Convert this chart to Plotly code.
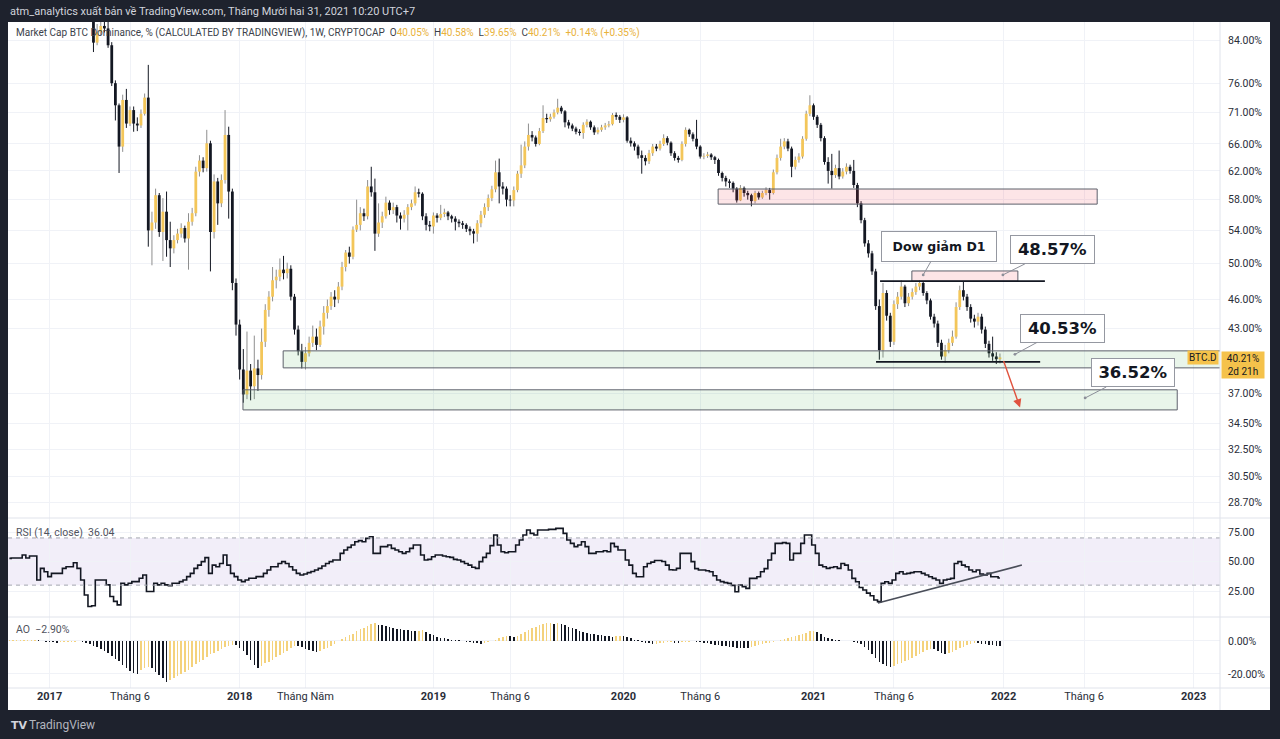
import math
import pandas as pd
import plotly.graph_objects as go
from plotly.subplots import make_subplots

# ---------------- data (weekly BTC dominance) ----------------
START_DATE = "2016-10-17"      # first weekly bar
FIRST_OPEN = 90.0

close = [
    90.4, 90.9, 90.6, 91.1, 90.8, 91.2, 91.0, 91.3, 89.6, 90.2,
    89.9, 89.7, 89.5, 89.9, 90.4, 90.5, 90.4, 90.9, 90.4, 89.8,
    89.0, 88.4, 88.0, 83.5, 85.5, 86.8, 86.3, 83.0, 76.0, 72.2,
    65.6, 73.1, 69.2, 71.4, 69.2, 68.9, 70.8, 73.5, 54.0, 55.0,
    58.6, 53.8, 56.4, 52.8, 51.8, 52.8, 53.6, 54.3, 53.0, 55.1,
    56.2, 61.9, 63.5, 62.4, 66.1, 53.8, 60.5, 57.5, 60.7, 67.4,
    59.1, 47.8, 43.4, 39.1, 36.9, 39.0, 37.6, 39.2, 38.6, 41.7,
    44.9, 46.3, 48.1, 48.5, 49.3, 48.9, 49.4, 46.3, 42.9, 40.8,
    39.8, 40.6, 41.6, 42.2, 41.4, 43.2, 44.6, 45.3, 46.3, 46.0,
    47.4, 49.6, 51.3, 50.8, 54.1, 54.7, 56.2, 55.8, 59.8, 59.0,
    53.6, 55.0, 55.8, 57.6, 56.6, 57.0, 55.9, 55.5, 56.0, 57.0,
    57.5, 59.0, 58.8, 55.8, 54.7, 54.5, 55.9, 55.6, 56.1, 56.3,
    55.8, 55.5, 55.1, 54.9, 54.7, 54.2, 53.9, 53.6, 54.9, 56.0,
    57.0, 58.2, 59.4, 61.8, 59.8, 59.5, 58.0, 57.9, 59.3, 61.6,
    62.8, 65.6, 67.4, 67.0, 66.0, 68.0, 70.1, 69.9, 70.3, 71.0,
    71.8, 71.2, 69.4, 68.9, 68.4, 67.9, 67.7, 69.0, 69.5, 68.6,
    67.8, 68.2, 68.6, 68.9, 69.1, 70.6, 70.3, 69.8, 70.2, 66.5,
    66.1, 65.6, 64.3, 63.9, 63.4, 64.6, 65.6, 65.3, 66.0, 66.9,
    66.2, 64.6, 63.9, 63.6, 66.0, 68.2, 67.5, 66.8, 65.6, 64.1,
    64.2, 64.4, 64.0, 63.6, 61.7, 61.0, 60.5, 60.3, 59.5, 57.9,
    59.6, 58.9, 58.6, 57.8, 58.9, 58.3, 58.9, 59.3, 58.9, 61.8,
    63.9, 65.6, 66.4, 65.3, 62.6, 63.6, 64.1, 66.8, 70.8, 72.2,
    70.3, 69.0, 66.9, 63.3, 62.0, 61.4, 62.4, 61.2, 61.9, 62.6,
    62.0, 60.0, 57.5, 55.3, 52.4, 51.2, 49.1, 45.3, 40.9, 46.7,
    44.3, 41.7, 45.5, 46.3, 47.4, 45.6, 46.3, 46.8, 47.4, 47.8,
    46.7, 45.9, 44.2, 43.5, 41.6, 40.3, 40.9, 41.6, 42.2, 45.2,
    47.0, 46.3, 45.2, 44.0, 43.7, 44.2, 42.9, 41.5, 40.6, 40.3,
    40.05, 40.21,
]

high = [
    91.0, 91.3, 91.4, 91.6, 91.5, 91.7, 91.6, 91.8, 91.5, 90.8,
    90.5, 90.3, 90.1, 90.4, 90.9, 91.0, 90.9, 91.4, 91.2, 90.6,
    90.0, 89.4, 89.0, 88.3, 87.2, 88.0, 88.5, 87.6, 83.6, 76.5,
    72.5, 74.0, 75.0, 72.0, 72.0, 70.2, 71.5, 74.2, 79.3, 56.4,
    59.5, 58.9, 58.2, 59.1, 55.1, 53.4, 54.2, 54.9, 54.6, 56.2,
    56.9, 62.6, 64.3, 64.0, 68.2, 66.5, 61.5, 61.0, 61.5, 71.4,
    68.7, 59.5, 48.3, 43.9, 41.0, 42.7, 39.6, 42.3, 40.0, 43.0,
    45.5, 46.9, 49.6, 49.3, 50.6, 50.9, 50.1, 49.8, 46.6, 43.3,
    41.5, 41.2, 42.2, 43.3, 43.0, 43.8, 45.3, 46.0, 46.8, 47.0,
    47.9, 50.2, 51.6, 52.0, 54.5, 58.0, 57.0, 56.8, 60.7, 62.6,
    60.9, 57.5, 56.4, 58.4, 57.9, 57.6, 57.3, 56.3, 56.6, 57.4,
    58.0, 59.8, 59.5, 59.0, 56.2, 55.2, 56.3, 56.2, 57.3, 56.8,
    56.5, 56.0, 55.8, 55.4, 55.2, 54.9, 54.5, 54.2, 55.3, 56.5,
    57.5, 58.7, 59.9, 63.5, 63.8, 60.4, 59.8, 58.6, 59.8, 62.0,
    65.9, 66.4, 69.2, 68.0, 67.3, 68.5, 72.2, 70.8, 70.8, 71.5,
    73.3, 72.1, 71.4, 69.8, 69.2, 68.7, 68.3, 69.4, 69.9, 69.7,
    68.9, 68.6, 69.0, 69.3, 69.6, 70.9, 71.0, 70.6, 70.7, 70.4,
    67.0, 66.4, 65.9, 65.0, 64.3, 65.1, 66.0, 66.0, 66.5, 67.5,
    67.2, 66.4, 64.9, 64.2, 66.4, 68.6, 68.4, 67.8, 69.8, 65.8,
    64.6, 64.8, 64.6, 64.2, 63.8, 61.9, 61.3, 60.8, 60.5, 59.7,
    60.0, 59.8, 59.2, 58.8, 59.2, 59.1, 59.2, 59.7, 59.6, 62.2,
    64.4, 66.8, 66.9, 66.8, 65.6, 64.1, 64.6, 67.2, 71.3, 73.9,
    72.5, 70.6, 69.3, 67.2, 64.0, 64.5, 62.9, 65.0, 62.4, 63.1,
    62.9, 63.6, 60.3, 57.8, 55.6, 52.8, 51.5, 49.4, 46.0, 47.8,
    47.0, 44.6, 45.9, 46.8, 48.1, 47.6, 46.7, 47.2, 47.8, 48.1,
    47.9, 46.9, 46.1, 44.5, 43.8, 41.9, 41.4, 42.0, 42.8, 45.7,
    47.5, 48.0, 46.6, 45.5, 44.4, 44.6, 44.5, 43.2, 41.8, 42.2,
    40.7, 40.58,
]

low = [
    89.8, 90.1, 90.2, 90.3, 90.4, 90.5, 90.4, 90.6, 89.0, 89.3,
    89.4, 89.1, 88.9, 89.2, 89.6, 89.9, 89.8, 90.2, 89.6, 89.2,
    88.6, 88.1, 87.8, 81.7, 83.0, 85.0, 85.5, 82.5, 75.5, 69.7,
    61.7, 64.8, 68.5, 68.8, 67.9, 68.0, 68.5, 70.5, 52.0, 49.8,
    54.2, 53.2, 50.3, 50.8, 49.6, 51.2, 52.4, 53.1, 52.5, 49.3,
    54.6, 55.8, 61.2, 61.8, 61.9, 49.1, 53.0, 54.7, 57.0, 60.2,
    55.5, 47.0, 42.3, 38.2, 36.2, 36.5, 36.4, 36.5, 37.2, 38.2,
    41.2, 44.2, 45.8, 47.2, 48.0, 48.2, 48.3, 45.9, 42.4, 40.4,
    39.2, 39.1, 40.3, 41.2, 40.9, 41.2, 42.4, 44.0, 44.9, 45.2,
    45.6, 47.0, 49.1, 50.0, 50.5, 53.8, 54.0, 55.2, 55.4, 58.4,
    51.5, 53.2, 54.3, 55.5, 56.0, 56.1, 55.0, 54.1, 55.0, 54.0,
    56.6, 57.2, 58.3, 55.3, 54.0, 53.9, 53.6, 55.0, 55.3, 55.7,
    55.3, 55.0, 54.0, 54.4, 54.2, 53.8, 53.4, 52.4, 52.6, 54.4,
    55.6, 56.5, 57.8, 59.0, 57.5, 58.7, 57.1, 57.1, 57.1, 59.0,
    61.0, 62.4, 65.0, 66.4, 65.6, 65.8, 67.7, 69.3, 69.5, 70.0,
    70.7, 70.8, 68.6, 68.4, 68.0, 67.5, 67.3, 66.8, 68.6, 68.2,
    67.4, 67.5, 67.9, 68.2, 68.6, 68.9, 69.8, 69.3, 69.4, 66.2,
    65.6, 65.0, 63.8, 61.6, 62.8, 63.0, 64.2, 64.9, 65.0, 65.7,
    65.8, 64.2, 63.5, 63.2, 63.4, 65.6, 67.1, 66.4, 65.2, 63.8,
    63.7, 63.9, 63.6, 63.0, 61.3, 60.5, 59.8, 59.6, 59.0, 57.6,
    57.8, 58.4, 58.0, 57.1, 57.5, 58.0, 58.1, 58.6, 58.0, 58.7,
    61.5, 63.5, 65.2, 64.9, 61.1, 62.2, 63.2, 63.8, 66.5, 70.4,
    69.8, 68.5, 66.4, 62.9, 60.2, 59.5, 61.0, 60.8, 60.9, 61.5,
    61.6, 59.6, 57.0, 54.9, 52.0, 50.7, 48.7, 44.9, 40.0, 40.2,
    43.8, 41.2, 41.4, 45.0, 46.0, 45.2, 45.3, 46.0, 46.5, 47.0,
    46.4, 45.5, 43.9, 43.1, 41.2, 40.0, 39.7, 40.6, 41.3, 42.0,
    44.9, 45.9, 44.8, 43.6, 43.1, 43.3, 42.5, 41.1, 40.2, 39.9,
    39.6, 39.65,
]

rsi = [
    52.7, 53.0, 53.0, 53.0, 55.5, 53.0, 54.7, 54.7, 34.4, 44.2,
    41.4, 37.2, 40.0, 40.0, 40.0, 44.2, 45.6, 45.6, 49.0, 44.2,
    34.4, 21.7, 11.9, 12.5, 34.4, 34.4, 34.4, 30.2, 20.4, 16.2,
    13.3, 31.6, 30.2, 31.6, 33.0, 33.0, 35.8, 38.6, 24.6, 24.6,
    31.6, 30.2, 31.6, 30.2, 29.6, 31.6, 31.6, 33.0, 34.4, 37.2,
    40.0, 44.2, 47.0, 49.9, 53.3, 40.0, 47.0, 45.6, 48.4, 55.5,
    47.0, 40.0, 37.2, 34.4, 33.0, 34.4, 35.8, 35.8, 37.2, 37.2,
    40.0, 42.8, 45.6, 45.6, 48.4, 49.9, 48.4, 45.6, 42.8, 40.0,
    38.6, 39.4, 40.6, 41.5, 42.8, 44.2, 46.2, 48.4, 49.9, 51.3,
    51.3, 56.9, 59.8, 62.0, 64.0, 66.8, 67.7, 66.8, 69.6, 71.0,
    56.9, 56.9, 62.6, 62.6, 64.0, 61.2, 59.8, 58.3, 56.9, 58.3,
    61.2, 64.0, 64.0, 55.5, 51.3, 51.8, 54.1, 55.5, 55.5, 54.7,
    54.1, 53.5, 51.8, 51.3, 49.9, 48.4, 47.0, 45.1, 44.2, 49.9,
    53.5, 56.9, 63.5, 72.5, 64.0, 58.3, 57.5, 58.3, 58.3, 64.0,
    68.2, 72.5, 76.7, 73.9, 72.5, 76.7, 76.7, 76.7, 77.3, 77.3,
    78.1, 78.1, 73.9, 68.2, 65.4, 62.6, 64.0, 66.8, 62.6, 56.9,
    56.9, 58.3, 58.3, 59.1, 58.3, 65.4, 62.6, 59.8, 59.8, 51.3,
    47.0, 40.0, 37.1, 37.1, 45.6, 48.4, 49.5, 50.9, 50.9, 50.0,
    47.0, 43.0, 42.8, 44.2, 56.9, 56.9, 56.9, 49.9, 44.0, 42.8,
    42.8, 42.2, 41.4, 38.0, 34.3, 33.0, 32.1, 31.5, 29.8, 24.4,
    30.1, 28.7, 27.3, 35.7, 35.7, 37.1, 41.4, 44.0, 51.3, 56.9,
    65.4, 65.4, 66.0, 65.4, 51.3, 56.9, 56.9, 65.4, 72.5, 72.5,
    64.0, 56.9, 47.0, 45.6, 44.2, 44.9, 45.6, 44.2, 48.4, 47.0,
    42.8, 35.7, 32.9, 28.0, 25.9, 23.2, 21.0, 17.4, 16.0, 31.5,
    32.9, 31.5, 34.3, 40.0, 41.4, 39.4, 40.0, 40.6, 41.4, 41.4,
    40.0, 38.6, 37.1, 35.7, 34.3, 31.5, 34.3, 35.0, 35.7, 48.4,
    49.9, 47.0, 45.6, 42.8, 41.4, 42.8, 39.4, 38.6, 40.0, 37.1,
    37.1, 36.04,
]

ao = [
    0.30, 0.35, 0.40, 0.45, 0.50, 0.55, 0.60, 0.65, 0.30, -0.20,
    -0.50, -0.70, -0.90, -1.00, -0.85, -0.70, -0.55, -0.45, -0.35, -0.30,
    -0.80, -1.2, -2.0, -3.0, -3.9, -4.9, -6.0, -7.6, -9.0, -10.7,
    -12.4, -14.4, -16.3, -17.9, -19.2, -19.8, -17.5, -16.5, -15.5, -16.5,
    -18.6, -20.6, -22.5, -24.7, -23.7, -22.7, -21.5, -20.0, -18.8, -17.5,
    -16.0, -14.2, -13.0, -11.5, -9.5, -8.0, -7.0, -5.8, -4.8, -3.8,
    -3.0, -2.2, -2.6, -4.0, -6.0, -8.5, -11.5, -14.5, -16.3, -15.0,
    -13.5, -12.5, -11.5, -9.8, -8.5, -7.0, -5.8, -4.5, -3.2, -3.3,
    -3.9, -4.8, -5.6, -6.2, -6.8, -6.1, -4.8, -4.0, -2.8, -1.6,
    0.0, 1.2, 2.1, 3.5, 4.5, 6.0, 7.3, 7.8, 9.0, 10.0,
    10.8, 9.9, 9.4, 8.8, 8.2, 7.6, 7.2, 7.0, 6.6, 6.4,
    6.2, 6.0, 6.2, 6.6, 5.2, 4.2, 3.3, 2.6, 2.0, 1.5,
    1.2, 0.8, 0.6, 0.3, 0.0, -0.4, -0.8, -1.2, -1.5, -1.7,
    -1.2, -0.9, -0.1, 0.5, 1.5, 2.3, 3.0, 2.8, 2.5, 3.0,
    4.0, 5.3, 6.5, 7.7, 8.7, 9.5, 10.1, 10.6, 11.1, 10.4,
    10.9, 10.3, 9.5, 8.6, 7.8, 7.0, 6.2, 5.6, 5.0, 4.5,
    4.0, 3.6, 3.3, 3.0, 2.8, 2.6, 2.9, 3.2, 2.8, 2.2,
    1.5, 0.8, 0.4, -0.6, -1.0, -1.5, -2.0, -1.6, -1.2, -1.0,
    -0.8, -0.6, -1.0, -1.3, -0.9, -0.6, -0.4, -0.3, -0.5, -0.8,
    -1.1, -1.4, -1.8, -2.2, -2.6, -3.0, -3.3, -3.6, -3.8, -4.0,
    -4.1, -4.2, -4.3, -3.8, -3.2, -2.6, -2.0, -1.5, -1.0, -0.5,
    0.0, 0.6, 1.2, 1.8, 2.2, 2.8, 3.5, 4.2, 5.0, 5.8,
    6.2, 5.6, 4.2, 2.5, 1.5, 0.9, 0.6, 0.4, 0.2, 0.0,
    -0.3, -0.6, -1.0, -2.0, -3.5, -5.5, -8.0, -10.5, -12.5, -14.0,
    -15.0, -15.5, -15.0, -14.2, -13.3, -12.3, -11.3, -10.3, -9.2, -8.0,
    -6.8, -5.7, -4.6, -5.0, -6.2, -7.3, -8.2, -7.5, -6.5, -5.5,
    -4.5, -3.5, -2.6, -1.8, -1.2, -1.4, -1.7, -2.0, -2.3, -2.6,
    -2.8, -2.9,
]

tick_weeks = [11, 33, 63, 81, 116, 137, 168, 189, 220, 242, 272, 294, 324]
tick_labels = ["<b>2017</b>", "Tháng 6", "<b>2018</b>", "Tháng Năm", "<b>2019</b>",
               "Tháng 6", "<b>2020</b>", "Tháng 6", "<b>2021</b>", "Tháng 6",
               "<b>2022</b>", "Tháng 6", "<b>2023</b>"]
price_ticks = [28.7, 30.5, 32.5, 34.5, 37.0, 43.0, 46.0, 50.0, 54.0, 58.0, 62.0, 66.0, 71.0, 76.0, 84.0]
rsi_ticks = [25, 50, 75]
ao_ticks = [0, -20]

# chart drawings (week index, value)
zones = [  # (from week, to week, low, high, kind)
    (63.9, 319.5, 35.6, 37.3, "green"),
    (74.9, 331.5, 39.25, 40.83, "green"),
    (193.9, 297.6, 57.4, 59.45, "pink"),
    (246.9, 275.9, 48.0, 49.15, "pink"),
]
hlines = [(238.2, 283.3, 48.0), (237.1, 282.0, 39.8)]
callouts = [  # text, week, value, dx, dy, width, height, size
    ("Dow giảm D1", 250.0, 48.7, 16, -28, 112, 27, 12.5),
    ("48.57%", 271.8, 48.7, 50, -25, 81, 25, 16.5),
    ("40.53%", 275.1, 40.5, 48, -26, 81, 25, 16.5),
    ("36.52%", 294.3, 36.6, 48, -25, 80, 25, 16.5),
]
rsi_trend = [(237.6, 14.8), (277.0, 47.0)]
red_arrow = (276.5, 35.8, -17, -48)

# ---------------- helpers ----------------
n = len(close)
assert len(high) == n and len(low) == n and len(rsi) == n and len(ao) == n
start = pd.Timestamp(START_DATE)


def wk(i):
    return (start + pd.Timedelta(days=7 * i)).strftime("%Y-%m-%d %H:%M:%S")


dates = [wk(i) for i in range(n)]
opens = [FIRST_OPEN] + close[:-1]

PL, PR, PT, PB = 8, 1220, 22, 688          # plot area in pixels


def px(x):
    return (x - PL) / (PR - PL)


def py(y):
    return (PB - y) / (PB - PT)


YEL = "#F3C65A"
BLK = "#131722"
AO_YEL = "#F4D27C"
GRID = "#F0F2F7"
TXT = "#2A2E39"

fig = make_subplots(rows=3, cols=1, shared_xaxes=True, vertical_spacing=0,
                    row_heights=[496 / 666, 99 / 666, 71 / 666])


def segs(idx, a, b):
    X, Y = [], []
    for i in idx:
        X += [dates[i], dates[i], None]
        Y += [a[i], b[i], None]
    return X, Y


up = [i for i in range(n) if close[i] >= opens[i]]
dn = [i for i in range(n) if close[i] < opens[i]]

for idx, col in ((up, "#8E8E8E"), (dn, BLK)):
    X, Y = segs(idx, low, high)
    fig.add_trace(go.Scatter(x=X, y=Y, mode="lines", line=dict(color=col, width=1),
                             hoverinfo="skip"), row=1, col=1)
for idx, col in ((up, YEL), (dn, BLK)):
    X, Y = segs(idx, opens, close)
    fig.add_trace(go.Scatter(x=X, y=Y, mode="lines", line=dict(color=col, width=2.8),
                             hoverinfo="skip"), row=1, col=1)

# RSI
fig.add_trace(go.Scatter(x=dates, y=rsi, mode="lines",
                         line=dict(color=BLK, width=1.6, shape="hvh")), row=2, col=1)

# AO
ao_cols = [AO_YEL if (i == 0 or ao[i] > ao[i - 1]) else BLK for i in range(n)]
fig.add_trace(go.Bar(x=dates, y=ao, marker=dict(color=ao_cols, line=dict(width=0)),
                     width=7 * 86400000 * 0.42), row=3, col=1)

# ---------------- axes ----------------
xr = [wk(-0.38), wk(331.2)]
tickvals = [wk(i) for i in tick_weeks]
fig.update_xaxes(type="date", range=xr, tickvals=tickvals, ticktext=tick_labels,
                 showgrid=True, gridcolor=GRID, gridwidth=1, zeroline=False,
                 showline=False, ticks="", fixedrange=True,
                 tickfont=dict(family="Roboto", size=11, color=TXT))
fig.update_xaxes(showticklabels=False, row=1, col=1)
fig.update_xaxes(showticklabels=False, row=2, col=1)
fig.update_xaxes(showticklabels=True, row=3, col=1)

yfont = dict(family="Roboto", size=10.5, color=TXT)
fig.update_yaxes(type="log", range=[math.log10(27.7), math.log10(87.6)], side="right",
                 tickvals=price_ticks, ticktext=[f"{v:.2f}%" for v in price_ticks],
                 showgrid=True, gridcolor=GRID, zeroline=False, ticks="",
                 ticklabelstandoff=7, tickfont=yfont, fixedrange=True, row=1, col=1)
fig.update_yaxes(range=[3.0, 86.9], side="right", tickvals=rsi_ticks,
                 ticktext=[f"{v:.2f}" for v in rsi_ticks], showgrid=True, gridcolor=GRID,
                 zeroline=False, ticks="", ticklabelstandoff=7, tickfont=yfont,
                 fixedrange=True, row=2, col=1)
fig.update_yaxes(range=[-28.5, 14.5], side="right", tickvals=ao_ticks,
                 ticktext=[f"{v:.2f}%" for v in ao_ticks], showgrid=True, gridcolor=GRID,
                 zeroline=False, ticks="", ticklabelstandoff=7, tickfont=yfont,
                 fixedrange=True, row=3, col=1)

shapes = []
# RSI band + dashed bounds
shapes.append(dict(type="rect", xref="x2 domain", yref="y2", x0=0, x1=1, y0=30, y1=70,
                   fillcolor="rgba(126,87,194,0.10)", line=dict(width=0), layer="below"))
for lv in (30, 70):
    shapes.append(dict(type="line", xref="x2 domain", yref="y2", x0=0, x1=1, y0=lv, y1=lv,
                       line=dict(color="#A3A6AF", width=1, dash="4px,4px")))
# RSI trend line
(t0, v0), (t1, v1) = rsi_trend
shapes.append(dict(type="line", xref="x2", yref="y2", x0=wk(t0), x1=wk(t1), y0=v0, y1=v1,
                   line=dict(color="#4A4E59", width=1.6)))
# zones
for a, b, lo, hi, kind in zones:
    fill = "rgba(76,175,80,0.12)" if kind == "green" else "rgba(242,54,69,0.13)"
    shapes.append(dict(type="rect", xref="x", yref="y", x0=wk(a), x1=wk(b), y0=lo, y1=hi,
                       fillcolor=fill, line=dict(color="#5D606B", width=1)))
for a, b, v in hlines:
    shapes.append(dict(type="line", xref="x", yref="y", x0=wk(a), x1=wk(b), y0=v, y1=v,
                       line=dict(color=BLK, width=1.6)))

# pane separators
for yy in (518, 617, 688):
    shapes.append(dict(type="line", xref="paper", yref="paper", x0=px(8), x1=px(1270),
                       y0=py(yy), y1=py(yy), line=dict(color="#E0E3EB", width=1)))
shapes.append(dict(type="line", xref="paper", yref="paper", x0=px(1220), x1=px(1220),
                   y0=py(22), y1=py(710), line=dict(color="#E0E3EB", width=1)))
# dark frame
DARK = "#1E222D"
for x0, x1, y0, y1 in ((0, 1280, 0, 22), (0, 8, 0, 739), (1270, 1280, 0, 739), (0, 1280, 710, 739)):
    shapes.append(dict(type="rect", xref="paper", yref="paper", x0=px(x0), x1=px(x1),
                       y0=py(y1), y1=py(y0), fillcolor=DARK, line=dict(width=0), layer="above"))

anns = []
anns.append(dict(xref="paper", yref="paper", x=px(8), y=py(11), xanchor="left", yanchor="middle",
                 text="atm_analytics xuất bản về TradingView.com, Tháng Mười hai 31, 2021 10:20 UTC+7",
                 showarrow=False, font=dict(family="Roboto", size=11, color="#D1D4DC")))
GOLD = "#E9B23A"
o_, h_, l_, c_ = opens[-1], high[-1], low[-1], close[-1]
legend = ("Market Cap BTC Dominance, % (CALCULATED BY TRADINGVIEW), 1W, CRYPTOCAP  "
          f"O<span style='color:{GOLD}'>{o_:.2f}%</span>  H<span style='color:{GOLD}'>{h_:.2f}%</span>  "
          f"L<span style='color:{GOLD}'>{l_:.2f}%</span>  C<span style='color:{GOLD}'>{c_:.2f}%</span>  "
          f"<span style='color:{GOLD}'>+0.14% (+0.35%)</span>")
anns.append(dict(xref="paper", yref="paper", x=px(14), y=py(33), xanchor="left", yanchor="middle",
                 text=legend, showarrow=False, font=dict(family="Roboto", size=10, color="#3B3F4A")))
anns.append(dict(xref="paper", yref="paper", x=px(14), y=py(532), xanchor="left", yanchor="middle",
                 text=f"RSI (14, close)  {rsi[-1]:.2f}", showarrow=False,
                 font=dict(family="Roboto", size=10.5, color="#50535E")))
anns.append(dict(xref="paper", yref="paper", x=px(14), y=py(629), xanchor="left", yanchor="middle",
                 text=f"AO  −{abs(ao[-1]):.2f}%", showarrow=False,
                 font=dict(family="Roboto", size=10.5, color="#50535E")))
# callouts
for text, w, v, dx, dy, bw, bh, fs in callouts:
    anns.append(dict(xref="x", yref="y", x=wk(w), y=math.log10(v), ax=dx, ay=dy,
                     text=f"<b>{text}</b>", showarrow=True, arrowhead=6, arrowsize=0.7,
                     arrowwidth=1, arrowcolor="#8C8F99", standoff=0,
                     bgcolor="white", bordercolor="#9598A1", borderwidth=1, borderpad=1,
                     width=bw, height=bh,
                     font=dict(family="DejaVu Sans", size=fs, color=BLK)))
# red arrow
rw, rv, rdx, rdy = red_arrow
anns.append(dict(xref="x", yref="y", x=wk(rw), y=math.log10(rv), ax=rdx, ay=rdy, text="",
                 showarrow=True, arrowhead=2, arrowsize=1.2, arrowwidth=1.4, arrowcolor="#E0533F"))
# price labels
anns.append(dict(xref="paper", yref="y", x=px(1219), y=math.log10(c_), xanchor="right",
                 yanchor="middle", text="BTC.D", showarrow=False, bgcolor="#F5C24B",
                 borderpad=1, height=11, font=dict(family="Roboto", size=10, color=BLK)))
anns.append(dict(xref="paper", yref="y", x=px(1221), y=math.log10(c_), xanchor="left",
                 yanchor="top", yshift=6, text=f"{c_:.2f}%<br>2d 21h", showarrow=False,
                 bgcolor="#F5C24B", borderpad=1, width=40,
                 font=dict(family="Roboto", size=10, color=BLK)))
# footer logo
anns.append(dict(xref="paper", yref="paper", x=px(9), y=py(725), xanchor="left", yanchor="middle",
                 text="<b>TV</b>", showarrow=False,
                 font=dict(family="DejaVu Sans", size=11, color="#D1D4DC")))
anns.append(dict(xref="paper", yref="paper", x=px(27), y=py(725), xanchor="left", yanchor="middle",
                 text="TradingView", showarrow=False,
                 font=dict(family="Roboto", size=12, color="#B2B5BE")))

fig.update_layout(width=1280, height=739, margin=dict(l=8, r=60, t=22, b=51),
                  paper_bgcolor="white", plot_bgcolor="white", showlegend=False,
                  shapes=shapes, annotations=anns, bargap=0, hovermode=False,
                  font=dict(family="Roboto", size=11, color=TXT))

fig.write_html("out.html", config={"displayModeBar": False, "staticPlot": True},
               post_script="document.body.style.margin='0';document.body.style.overflow='hidden';")
